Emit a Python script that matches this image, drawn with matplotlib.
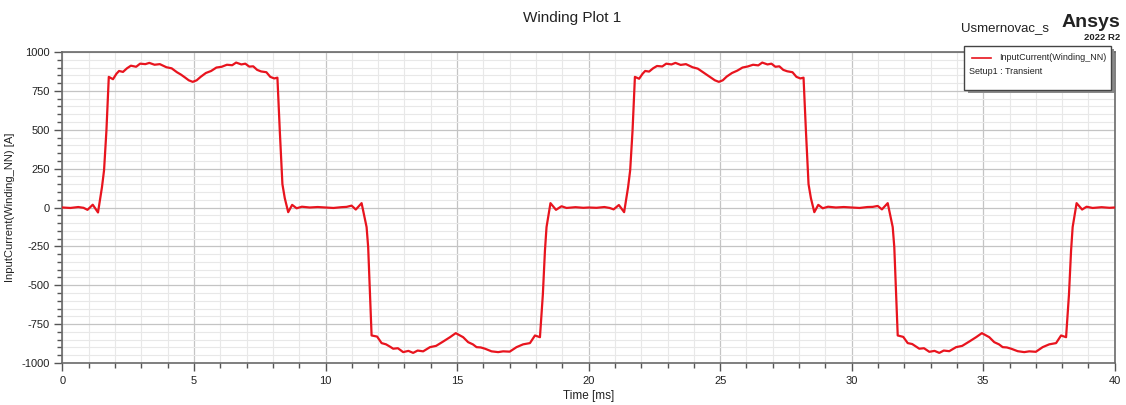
import matplotlib.pyplot as plt
from matplotlib.ticker import MultipleLocator
from matplotlib.patches import Rectangle
from matplotlib.lines import Line2D

plt.rcParams['font.family'] = ['Liberation Sans', 'DejaVu Sans']
plt.rcParams['axes.unicode_minus'] = False

# poluperioda 1 (pozitivna), t [ms], I [A]
t_p1 = [0, 0.3, 0.6, 0.8, 0.95, 1.15, 1.35, 1.5, 1.58, 1.67, 1.76, 1.92, 2.05, 2.15, 2.3,
        2.45, 2.6, 2.8, 2.95, 3.15, 3.3, 3.5, 3.7, 3.95, 4.15, 4.35, 4.5, 4.65, 4.8, 4.95,
        5.1, 5.25, 5.45, 5.65, 5.85, 6.05, 6.25, 6.45, 6.6, 6.8, 6.95, 7.1, 7.25, 7.4, 7.55,
        7.75, 7.9, 8.05, 8.17, 8.26, 8.36, 8.45, 8.58, 8.73, 8.9, 9.1, 9.4, 9.7, 10.0]
i_p1 = [0, -3, 3, -2, -15, 18, -32, 130, 240, 495, 840, 825, 860, 878, 872,
        895, 912, 905, 925, 922, 930, 918, 922, 902, 895, 870, 855, 837, 818, 808,
        818, 840, 865, 878, 900, 905, 918, 915, 932, 920, 925, 906, 908, 885, 875,
        870, 840, 830, 835, 495, 150, 60, -30, 17, -5, 5, 0, 3, 0]

# poluperioda 2 (negativna)
t_n1 = [10.3, 10.6, 10.8, 10.99, 11.15, 11.37, 11.56, 11.62, 11.75, 11.96, 12.13, 12.3,
        12.45, 12.57, 12.75, 12.95, 13.15, 13.33, 13.5, 13.71, 13.97, 14.2, 14.47, 14.73,
        14.95, 15.23, 15.42, 15.6, 15.74, 15.9, 16.06, 16.31, 16.56, 16.75, 17.0, 17.26,
        17.51, 17.77, 17.96, 18.15, 18.26, 18.34, 18.4, 18.55, 18.76, 18.97, 19.16, 19.5,
        19.8, 20.0]
i_n1 = [-3, 2, 4, 12, -13, 28, -126, -255, -823, -830, -872, -880,
        -895, -908, -905, -930, -922, -935, -920, -925, -898, -890, -862, -834,
        -808, -834, -866, -880, -898, -900, -908, -925, -930, -925, -927, -898,
        -880, -872, -823, -834, -560, -277, -126, 28, -15, 8, -3, 2,
        -2, 0]

# poluperioda 3 (pozitivna)
t_p2 = [20.3, 20.6, 20.8, 20.95, 21.15, 21.35, 21.5, 21.58, 21.67, 21.76, 21.92, 22.05,
        22.15, 22.3, 22.45, 22.6, 22.8, 22.95, 23.15, 23.3, 23.5, 23.7, 23.95, 24.15, 24.35,
        24.5, 24.65, 24.8, 24.95, 25.1, 25.25, 25.45, 25.65, 25.85, 26.05, 26.25, 26.45,
        26.6, 26.8, 26.95, 27.1, 27.25, 27.4, 27.55, 27.75, 27.9, 28.05, 28.17, 28.26,
        28.36, 28.45, 28.58, 28.73, 28.9, 29.1, 29.4, 29.7, 30.0]
i_p2 = [-2, 3, -3, -12, 16, -30, 130, 240, 495, 840, 828, 860, 878,
        874, 895, 910, 907, 925, 920, 930, 917, 922, 902, 893,
        870, 853, 836, 818, 808, 818, 842, 865, 880, 900, 907,
        918, 914, 932, 920, 925, 905, 908, 885, 876, 870, 840,
        830, 835, 495, 150, 60, -30, 17, -5, 5, 0, 3, 0]

# poluperioda 4 (negativna)
t_n2 = [30.3, 30.6, 30.8, 30.99, 31.15, 31.37, 31.56, 31.62, 31.75, 31.96, 32.13, 32.3,
        32.45, 32.57, 32.75, 32.95, 33.15, 33.33, 33.5, 33.71, 33.97, 34.2, 34.47, 34.73,
        34.95, 35.23, 35.42, 35.6, 35.74, 35.9, 36.06, 36.31, 36.56, 36.75, 37.0, 37.26,
        37.51, 37.77, 37.96, 38.15, 38.26, 38.34, 38.4, 38.55, 38.76, 38.93, 39.16, 39.5,
        39.8, 40.0]
i_n2 = [-3, 3, 4, 10, -12, 28, -126, -255, -823, -832, -872, -878,
        -895, -908, -905, -928, -922, -935, -920, -924, -898, -890, -862, -834,
        -808, -834, -866, -880, -898, -900, -908, -924, -930, -925, -928, -898,
        -880, -872, -823, -834, -560, -277, -126, 28, -13, 5, -3, 2,
        -2, 0]

t = t_p1 + t_n1 + t_p2 + t_n2
i_in = i_p1 + i_n1 + i_p2 + i_n2

fig = plt.figure(figsize=(11.26, 4.05), dpi=100)
ax = fig.add_axes([0.0555, 0.1037, 0.9345, 0.7679])

ax.plot(t, i_in, color='#e8141e', lw=1.6, zorder=3)

ax.set_xlim(0, 40)
ax.set_ylim(-1000, 1000)
ax.xaxis.set_major_locator(MultipleLocator(5))
ax.xaxis.set_minor_locator(MultipleLocator(1))
ax.yaxis.set_major_locator(MultipleLocator(250))
ax.yaxis.set_minor_locator(MultipleLocator(50))
ax.grid(which='major', color='#c4c4c4', lw=0.9)
ax.grid(which='minor', color='#e8e8e8', lw=0.8)
ax.set_axisbelow(True)
ax.tick_params(which='major', length=6, width=1, color='#555555', labelsize=8,
               labelcolor='#222222', pad=3)
ax.tick_params(which='minor', length=3.5, width=1, color='#555555')
for s in ax.spines.values():
    s.set_color('#6a6a6a')
    s.set_linewidth(1.2)

ax.set_xlabel('Time [ms]', fontsize=8.5, color='#222222', labelpad=3)
ax.set_ylabel('InputCurrent(Winding_NN) [A]', fontsize=8, color='#222222', labelpad=5)

fig.text(0.508, 0.955, 'Winding Plot 1', ha='center', va='center', fontsize=11, color='#222222')
fig.text(0.932, 0.930, 'Usmernovac_s', ha='right', va='center', fontsize=9.5, color='#222222')
fig.text(0.995, 0.945, 'Ansys', ha='right', va='center', fontsize=14, fontweight='bold', color='#222222')
fig.text(0.995, 0.908, '2022 R2', ha='right', va='center', fontsize=6.8, fontweight='bold', color='#222222')

# legenda
sh = Rectangle((0.8595, 0.771), 0.130, 0.109, transform=fig.transFigure,
               facecolor='#8a8a8a', edgecolor='none', zorder=9)
bx = Rectangle((0.8565, 0.778), 0.130, 0.109, transform=fig.transFigure,
               facecolor='white', edgecolor='#444444', lw=1, zorder=10)
fig.add_artist(sh)
fig.add_artist(bx)
fig.add_artist(Line2D([0.8635, 0.880], [0.857, 0.857], transform=fig.transFigure,
                      color='#e8141e', lw=1.2, zorder=11))
fig.text(0.8875, 0.857, 'InputCurrent(Winding_NN)', ha='left', va='center', fontsize=6.5,
         color='#222222', zorder=11)
fig.text(0.8605, 0.824, 'Setup1 : Transient', ha='left', va='center', fontsize=6.5,
         color='#222222', zorder=11)

fig.savefig('out.png', dpi=100)
